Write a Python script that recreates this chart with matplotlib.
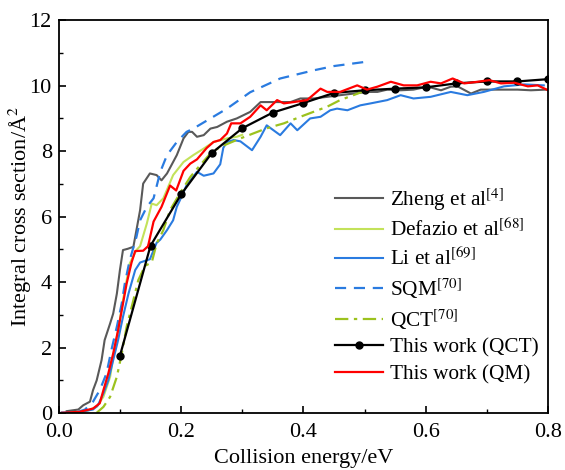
import matplotlib
matplotlib.use("Agg")
import matplotlib.pyplot as plt
from matplotlib.ticker import MultipleLocator

plt.rcParams["font.family"] = ["Liberation Serif", "DejaVu Serif"]
plt.rcParams["mathtext.fontset"] = "stix"

# Zheng et al [4]
zheng_x = [0.013, 0.032, 0.04, 0.051, 0.056, 0.062, 0.07, 0.075, 0.084, 0.089, 0.095, 0.1,
           0.105, 0.113, 0.122, 0.133, 0.138, 0.149, 0.16, 0.168, 0.177, 0.193, 0.204, 0.212,
           0.218, 0.226, 0.237, 0.248, 0.259, 0.275, 0.291, 0.313, 0.33, 0.351, 0.379, 0.395,
           0.417, 0.439, 0.46, 0.482, 0.504, 0.521, 0.537, 0.559, 0.58, 0.603, 0.625, 0.641,
           0.652, 0.674, 0.69, 0.718, 0.75, 0.772, 0.797]
zheng_y = [0.06, 0.11, 0.24, 0.35, 0.70, 1.0, 1.62, 2.23, 2.74, 3.04, 3.65, 4.37,
           4.98, 5.02, 5.08, 6.2, 7.01, 7.32, 7.27, 7.11, 7.32, 7.88, 8.39, 8.59,
           8.59, 8.44, 8.49, 8.69, 8.74, 8.9, 9.0, 9.2, 9.5, 9.5, 9.5, 9.61,
           9.61, 9.66, 9.71, 9.76, 9.81, 9.81, 9.88, 9.86, 9.88, 9.97, 9.86, 9.97,
           9.98, 9.76, 9.88, 9.88, 9.88, 9.86, 9.88]

# Defazio et al [68]
defazio_x = [0.04, 0.062, 0.073, 0.084, 0.089, 0.097, 0.105, 0.111, 0.116, 0.127, 0.133,
             0.144, 0.152, 0.16, 0.171, 0.187, 0.204, 0.22, 0.237, 0.253, 0.275, 0.291, 0.3]
defazio_y = [0.02, 0.19, 0.5, 1.11, 1.72, 2.53, 3.45, 4.06, 4.57, 4.98, 5.1,
             5.79, 6.4, 6.35, 6.56, 7.27, 7.67, 7.88, 8.08, 8.28, 8.39, 8.44, 8.5]

# Li et al [69]
li_x = [0.005, 0.03, 0.056, 0.064, 0.073, 0.081, 0.089, 0.097, 0.105, 0.114, 0.125, 0.133,
        0.149, 0.16, 0.166, 0.177, 0.187, 0.193, 0.198, 0.209, 0.226, 0.237, 0.253, 0.264,
        0.269, 0.275, 0.286, 0.297, 0.316, 0.33, 0.34, 0.362, 0.379, 0.39, 0.411, 0.428,
        0.444, 0.455, 0.472, 0.493, 0.51, 0.537, 0.559, 0.58, 0.608, 0.641, 0.668, 0.695,
        0.728, 0.761, 0.793]
li_y = [0.02, 0.02, 0.11, 0.24, 0.6, 1.0, 1.62, 2.23, 2.94, 3.65, 4.37, 4.6,
        4.7, 5.2, 5.3, 5.59, 5.89, 6.3, 6.5, 6.96, 7.37, 7.25, 7.32, 7.6,
        8.1, 8.28, 8.34, 8.3, 8.03, 8.44, 8.79, 8.49, 8.85, 8.64, 9.0, 9.05,
        9.25, 9.3, 9.25, 9.4, 9.46, 9.56, 9.71, 9.61, 9.66, 9.81, 9.71, 9.81,
        9.98, 10.04, 10.01]

# SQM [70]
sqm_x = [0.03, 0.043, 0.056, 0.067, 0.078, 0.086, 0.095, 0.103, 0.108, 0.116, 0.127, 0.133,
         0.144, 0.155, 0.166, 0.177, 0.193, 0.209, 0.22, 0.248, 0.275, 0.313, 0.362, 0.395,
         0.417, 0.45, 0.502]
sqm_y = [0.03, 0.11, 0.35, 0.7, 1.21, 1.92, 2.64, 3.35, 3.96, 4.67, 5.38, 5.89,
         6.3, 6.56, 7.37, 7.88, 8.28, 8.59, 8.69, 9.0, 9.3, 9.8, 10.22, 10.37,
         10.47, 10.6, 10.73]

# QCT [70]
qct70_x = [0.062, 0.073, 0.084, 0.095, 0.103, 0.111, 0.122, 0.13, 0.141, 0.152, 0.16, 0.171,
           0.182, 0.198, 0.215, 0.231, 0.248, 0.264, 0.297, 0.34, 0.368, 0.395, 0.439, 0.46,
           0.496]
qct70_y = [0.01, 0.19, 0.5, 1.11, 1.82, 2.64, 3.45, 4.06, 4.5, 4.6, 5.18, 5.59,
           6.2, 6.71, 7.21, 7.57, 7.93, 8.13, 8.39, 8.7, 8.85, 9.05, 9.36, 9.56,
           9.81]

# This work (QCT)
qct_x = [0.1, 0.15, 0.2, 0.25, 0.3, 0.35, 0.4, 0.45, 0.5, 0.55, 0.6, 0.65, 0.7, 0.75, 0.8]
qct_y = [1.75, 5.11, 6.68, 7.94, 8.70, 9.18, 9.47, 9.78, 9.86, 9.91, 9.95, 10.07, 10.13,
         10.13, 10.2]

# This work (QM)
qm_x = [0.005, 0.034, 0.056, 0.067, 0.073, 0.081, 0.089, 0.097, 0.103, 0.111, 0.119, 0.125,
        0.138, 0.146, 0.155, 0.168, 0.182, 0.192, 0.204, 0.215, 0.226, 0.242, 0.253, 0.264,
        0.275, 0.282, 0.297, 0.313, 0.33, 0.34, 0.357, 0.368, 0.384, 0.406, 0.428, 0.439,
        0.46, 0.488, 0.504, 0.521, 0.543, 0.564, 0.586, 0.608, 0.625, 0.644, 0.663, 0.685,
        0.704, 0.723, 0.745, 0.767, 0.783, 0.8]
qm_y = [0.01, 0.04, 0.14, 0.3, 0.7, 1.21, 1.82, 2.53, 3.14, 3.96, 4.6, 4.95,
        4.96, 5.1, 5.85, 6.3, 6.95, 6.8, 7.4, 7.62, 7.75, 8.1, 8.28, 8.34,
        8.54, 8.85, 8.85, 9.05, 9.4, 9.25, 9.56, 9.46, 9.5, 9.56, 9.91, 9.81,
        9.81, 10.01, 9.88, 9.97, 10.12, 10.01, 10.01, 10.12, 10.07, 10.22, 10.07, 10.12,
        10.17, 10.07, 10.09, 9.98, 10.01, 9.86]

fig = plt.figure(figsize=(5.65, 4.7), dpi=100)
ax = fig.add_axes([0.104, 0.121, 0.866, 0.836])

ax.plot(zheng_x, zheng_y, color="#595959", lw=1.5, label="Zheng et al$^{[4]}$")
ax.plot(defazio_x, defazio_y, color="#c3e25a", lw=1.5, label="Defazio et al$^{[68]}$")
ax.plot(li_x, li_y, color="#2a7be0", lw=1.5, label="Li et al$^{[69]}$")
ax.plot(sqm_x, sqm_y, color="#2a7be0", lw=1.6, ls=(0, (5, 3.5)), label="SQM$^{[70]}$")
ax.plot(qct70_x, qct70_y, color="#9cc21e", lw=1.6, ls=(0, (6, 2.5, 1.5, 2.5)),
        label="QCT$^{[70]}$")
ax.plot(qct_x, qct_y, color="black", lw=1.6, marker="o", ms=5, label="This work (QCT)")
ax.plot(qm_x, qm_y, color="#ff0000", lw=1.6, label="This work (QM)")

ax.set_xlim(0, 0.8)
ax.set_ylim(0, 12)
ax.xaxis.set_major_locator(MultipleLocator(0.2))
ax.xaxis.set_minor_locator(MultipleLocator(0.1))
ax.yaxis.set_major_locator(MultipleLocator(2))
ax.yaxis.set_minor_locator(MultipleLocator(1))
ax.xaxis.set_major_formatter(plt.FuncFormatter(lambda v, p: f"{v:.1f}"))
ax.tick_params(which="both", direction="in", top=False, right=False, labelsize=16)
ax.tick_params(axis="x", pad=7)
ax.tick_params(axis="y", pad=5)
ax.tick_params(which="major", length=5, width=1.2)
ax.tick_params(which="minor", length=3, width=1.0)
for s in ax.spines.values():
    s.set_linewidth(1.3)

ax.set_xlabel("Collision energy/eV", fontsize=16, labelpad=5)
ax.set_ylabel("Integral cross section/Å$^2$", fontsize=16, labelpad=-3)

ax.legend(loc="upper left", bbox_to_anchor=(0.547, 0.60), frameon=False, fontsize=15.3,
          handlelength=2.25, labelspacing=0.30, handletextpad=0.33, borderaxespad=0)

fig.savefig("out.png", dpi=100)
